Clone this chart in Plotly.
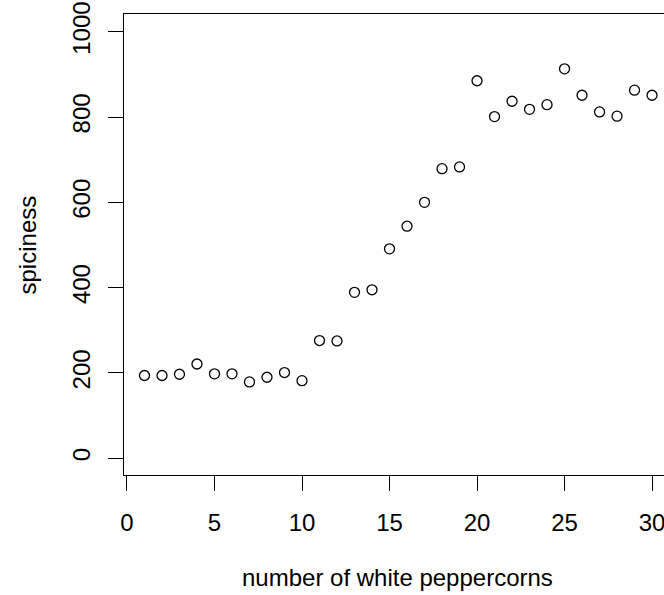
import plotly.graph_objects as go

# data
peppercorns = list(range(1, 31))
spiciness = [194, 194, 197, 221, 198, 198, 179, 190, 201, 182,
             276, 275, 389, 395, 491, 544, 600, 679, 683, 885,
             801, 837, 818, 829, 913, 851, 812, 802, 863, 851]
x_ticks = [0, 5, 10, 15, 20, 25, 30]
y_ticks = [0, 200, 400, 600, 800, 1000]

FONT = "Liberation Sans, Arial, sans-serif"
FS = 24

fig = go.Figure()
fig.add_trace(go.Scatter(
    x=peppercorns, y=spiciness, mode="markers",
    marker=dict(symbol="circle-open", size=10, color="black",
                line=dict(width=1.3, color="black")),
    cliponaxis=False, showlegend=False))

# figure is wider than the window (as in the reference, whose right side is cut)
fig.update_layout(
    width=700, height=595,
    margin=dict(l=124, r=0, t=14, b=120),
    paper_bgcolor="white", plot_bgcolor="white",
    font=dict(family=FONT, size=FS, color="black"),
    xaxis=dict(range=[-0.17, 32.74], tickvals=x_ticks, ticks="outside",
               ticklen=15, tickwidth=1, tickcolor="black",
               showline=True, linecolor="black", linewidth=1, mirror=True,
               showgrid=False, zeroline=False, ticklabelstandoff=11,
               ticklabeloverflow="allow",
               tickfont=dict(family=FONT, size=FS)),
    yaxis=dict(range=[-39.2, 1041.5], tickvals=y_ticks, ticks="outside",
               ticklen=15, tickwidth=1, tickcolor="black", tickangle=-90,
               showline=True, linecolor="black", linewidth=1, mirror=False,
               showgrid=False, zeroline=False, ticklabelstandoff=8,
               tickfont=dict(family=FONT, size=FS)),
    annotations=[
        dict(text="number of white peppercorns", xref="paper", yref="paper",
             x=0.4748, y=-0.2234, xanchor="center", yanchor="middle",
             showarrow=False, font=dict(family=FONT, size=FS)),
        dict(text="spiciness", xref="paper", yref="paper",
             x=-0.1667, y=0.5, xanchor="center", yanchor="middle",
             textangle=-90, showarrow=False, font=dict(family=FONT, size=FS)),
    ],
)

fig.write_html("out.html", config={"displayModeBar": False},
               post_script="document.body.style.margin='0';"
                           "document.body.style.overflow='hidden';")
